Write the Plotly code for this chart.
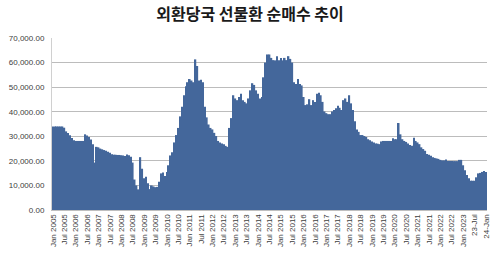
import plotly.graph_objects as go
import pandas as pd

months = [d.strftime("%Y-%m") for d in pd.date_range("2005-01-01", "2024-01-01", freq="MS")]

values = [
    # 2005
    34000, 34000, 34000, 34000, 34000, 34000, 33500, 32000, 31300, 30400, 29300, 28400,
    # 2006
    28100, 28100, 28100, 28100, 28100, 30800, 30300, 29700, 28700, 26800, 19300, 25700,
    # 2007
    25500, 25000, 24700, 24400, 24100, 23700, 23300, 22700, 22500, 22500, 22400, 22400,
    # 2008
    22300, 22200, 22000, 22600, 22300, 21700, 19300, 12400, 10000, 8400, 21500, 16800,
    # 2009
    12900, 13500, 10900, 8500, 10000, 9600, 9300, 9400, 11500, 14900, 15300, 13800,
    # 2010
    15500, 18200, 22200, 23500, 27500, 30500, 33400, 38100, 42000, 46700, 50400, 52000,
    # 2011
    53300, 52700, 52000, 61300, 58600, 52700, 53000, 52000, 42000, 37700, 34800, 33400,
    # 2012
    32800, 31400, 30100, 28100, 27500, 27100, 26800, 26100, 25700, 33400, 37400, 46700,
    # 2013
    45400, 44700, 46000, 47300, 44700, 44000, 43400, 45400, 48700, 51600, 50900, 48700,
    # 2014
    47300, 45400, 46000, 54000, 60000, 63300, 63300, 61900, 61000, 60900, 62600, 60900,
    # 2015
    61900, 60900, 61900, 61000, 62600, 61500, 60000, 52000, 51300, 53300, 51300, 50700,
    # 2016
    46000, 42700, 43000, 45100, 42700, 44700, 44000, 47300, 47700, 46700, 44000, 40100,
    # 2017
    39400, 39000, 39000, 40100, 40700, 41400, 42400, 41600, 40700, 44700, 45400, 44000,
    # 2018
    46700, 43400, 40700, 36100, 32800, 31800, 30500, 30500, 30100, 29700, 28800, 28400,
    # 2019
    27900, 27500, 27100, 27000, 26800, 27900, 28100, 28100, 28100, 28100, 28100, 29200,
    # 2020
    28800, 28800, 35400, 30800, 28800, 28100, 27700, 27100, 26500, 26100, 29400, 28100,
    # 2021
    27500, 26800, 25500, 24800, 24100, 22800, 22500, 22100, 21500, 21200, 21000, 20800,
    # 2022
    20400, 20200, 20200, 20600, 19900, 19900, 19900, 19900, 19900, 19900, 20400, 20400,
    # 2023
    18200, 16200, 14200, 12900, 11900, 11900, 11900, 13300, 14900, 15100, 15500, 15900,
    # 2024
    15500,
]

tick_labels = [
    "Jan 2005", "Jul 2005", "Jan 2006", "Jul 2006", "Jan 2007", "Jul 2007",
    "Jan 2008", "Jul 2008", "Jan 2009", "Jul 2009", "Jan 2010", "Jul 2010",
    "Jan 2011", "Jul 2011", "Jan 2012", "Jul 2012", "Jan 2013", "Jul 2013",
    "Jan 2014", "Jul 2014", "Jan 2015", "Jul 2015", "Jan 2016", "Jul 2016",
    "Jan 2017", "Jul 2017", "Jan 2018", "Jul 2018", "Jan 2019", "Jul 2019",
    "Jan 2020", "Jul 2020", "Jan 2021", "Jul 2021", "Jan 2022", "Jul 2022",
    "Jan 2023", "23-Jul", "24-Jan",
]
tick_positions = months[::6]

title = "외환당국 선물환 순매수 추이"

fig = go.Figure(go.Bar(
    x=months, y=values,
    marker=dict(color="#44679b", line=dict(width=0)),
))

fig.update_layout(
    width=500, height=256,
    margin=dict(l=43, r=9, t=38, b=42),
    paper_bgcolor="white", plot_bgcolor="white",
    bargap=0.12,
    showlegend=False,
    title=dict(text=title, x=0.5, xanchor="center", y=1 - 14/256, yanchor="middle",
               font=dict(family="Noto Sans CJK KR", size=16, color="#1a1a1a", weight="bold")),
    xaxis=dict(
        type="category", tickmode="array", tickvals=tick_positions, ticktext=tick_labels,
        tickangle=-90, tickfont=dict(family="Liberation Sans", size=8, color="#404040"),
        showgrid=False, showline=True, linecolor="#bfbfbf", linewidth=1,
        ticks="", ticklen=0,
    ),
    yaxis=dict(
        range=[0, 70000], dtick=10000, tickformat=",.2f",
        tickfont=dict(family="Liberation Sans", size=8, color="#404040"),
        showgrid=True, gridcolor="#bcbcbc", gridwidth=1,
        showline=True, linecolor="#d0d0d0", linewidth=1,
        zeroline=False, ticks="", ticklabelstandoff=5,
    ),
)

fig.write_html("out.html")
